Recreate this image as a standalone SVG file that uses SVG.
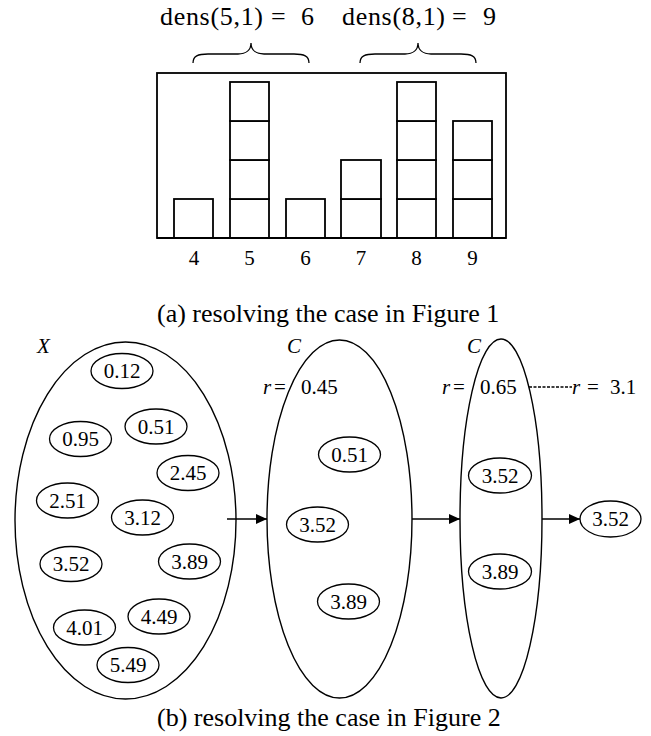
<svg xmlns="http://www.w3.org/2000/svg" width="651" height="736" viewBox="0 0 651 736">
  <style>
    text { font-family: "Liberation Serif", "Times New Roman", serif; fill: #000; }
    .math { font-size: 26px; }
    .tick { font-size: 21px; text-anchor: middle; }
    .cap { font-size: 26px; }
    .num { font-size: 21px; text-anchor: middle; }
    .it { font-size: 21px; font-style: italic; }
    .lbl { font-size: 21px; }
    .frame { fill: none; stroke: #000; stroke-width: 1.8; }
    .cell { fill: #fff; stroke: #000; stroke-width: 1.8; }
    .brace { fill: none; stroke: #000; stroke-width: 1.3; }
    .set { fill: none; stroke: #000; stroke-width: 1.4; }
    .elem { fill: #fff; stroke: #000; stroke-width: 1.3; }
    .edge { fill: none; stroke: #000; stroke-width: 1.4; }
    .dash { fill: none; stroke: #000; stroke-width: 1.3; stroke-dasharray: 3 1.5; }
  </style>
  <defs>
    <marker id="arrow" markerUnits="userSpaceOnUse" markerWidth="12" markerHeight="11" refX="11" refY="5" orient="auto">
      <path d="M0,0 L11,5 L0,10 Z" fill="#000"/>
    </marker>
  </defs>

  <!-- (a) density histogram -->
  <g id="density-labels">
    <text class="math" x="160" y="25" textLength="103" lengthAdjust="spacing">dens(5,1)</text>
    <text class="math" x="271" y="25">=</text>
    <text class="math" x="301" y="25">6</text>
    <text class="math" x="342" y="25" textLength="103" lengthAdjust="spacing">dens(8,1)</text>
    <text class="math" x="452" y="25">=</text>
    <text class="math" x="483" y="25">9</text>
  </g>
  <g id="braces">
    <path class="brace" d="M193,63 C193,56 198,54 208,54 L238,54 C246,54 251,50 251,43 C251,50 256,54 264,54 L294,54 C304,54 309,56 309,63"/>
    <path class="brace" d="M360,63 C360,56 365,54 375,54 L405,54 C413,54 418,50 418,43 C418,50 423,54 431,54 L461,54 C471,54 476,56 476,63"/>
  </g>
  <g id="histogram">
    <rect class="frame" x="157" y="73" width="349" height="165"/>
    <!-- bin 4: 1 -->
    <rect class="cell" x="174" y="199" width="39" height="39"/>
    <!-- bin 5: 4 -->
    <rect class="cell" x="230" y="199" width="39" height="39"/>
    <rect class="cell" x="230" y="160" width="39" height="39"/>
    <rect class="cell" x="230" y="121" width="39" height="39"/>
    <rect class="cell" x="230" y="82" width="39" height="39"/>
    <!-- bin 6: 1 -->
    <rect class="cell" x="286" y="199" width="39" height="39"/>
    <!-- bin 7: 2 -->
    <rect class="cell" x="341" y="199" width="40" height="39"/>
    <rect class="cell" x="341" y="160" width="40" height="39"/>
    <!-- bin 8: 4 -->
    <rect class="cell" x="397" y="199" width="39" height="39"/>
    <rect class="cell" x="397" y="160" width="39" height="39"/>
    <rect class="cell" x="397" y="121" width="39" height="39"/>
    <rect class="cell" x="397" y="82" width="39" height="39"/>
    <!-- bin 9: 3 -->
    <rect class="cell" x="453" y="199" width="39" height="39"/>
    <rect class="cell" x="453" y="160" width="39" height="39"/>
    <rect class="cell" x="453" y="121" width="39" height="39"/>
    <line class="frame" x1="157" y1="238" x2="506" y2="238"/>
  </g>
  <g id="bins">
    <text class="tick" x="194" y="265">4</text>
    <text class="tick" x="249.5" y="265">5</text>
    <text class="tick" x="305.5" y="265">6</text>
    <text class="tick" x="361" y="265">7</text>
    <text class="tick" x="416.5" y="265">8</text>
    <text class="tick" x="472.5" y="265">9</text>
  </g>
  <text class="cap" x="157" y="322">(a) resolving the case in Figure 1</text>

  <!-- (b) candidate sets -->
  <g id="connectors">
    <line class="edge" x1="227" y1="519" x2="267" y2="519" marker-end="url(#arrow)"/>
    <line class="edge" x1="412" y1="519" x2="460" y2="519" marker-end="url(#arrow)"/>
    <line class="edge" x1="542" y1="519" x2="580" y2="519" marker-end="url(#arrow)"/>
    <line class="dash" x1="529" y1="387" x2="572" y2="387"/>
  </g>

  <g id="set-X">
    <ellipse class="set" cx="125.5" cy="520.5" rx="110.5" ry="178.5"/>
    <text class="it" x="37" y="353">X</text>
    <ellipse class="elem" cx="122" cy="371" rx="31" ry="17.5"/>
    <text class="num" x="122" y="378">0.12</text>
    <ellipse class="elem" cx="80.5" cy="439" rx="31" ry="17.5"/>
    <text class="num" x="80.5" y="446">0.95</text>
    <ellipse class="elem" cx="156" cy="426.5" rx="31" ry="17.5"/>
    <text class="num" x="156" y="433.5">0.51</text>
    <ellipse class="elem" cx="188" cy="473" rx="31" ry="17.5"/>
    <text class="num" x="188" y="480">2.45</text>
    <ellipse class="elem" cx="67.5" cy="500.5" rx="31" ry="17.5"/>
    <text class="num" x="67.5" y="507.5">2.51</text>
    <ellipse class="elem" cx="142.5" cy="517.5" rx="31" ry="17.5"/>
    <text class="num" x="142.5" y="524.5">3.12</text>
    <ellipse class="elem" cx="71" cy="564" rx="31" ry="17.5"/>
    <text class="num" x="71" y="571">3.52</text>
    <ellipse class="elem" cx="189.5" cy="561.5" rx="31" ry="17.5"/>
    <text class="num" x="189.5" y="568.5">3.89</text>
    <ellipse class="elem" cx="84.5" cy="627.5" rx="31" ry="17.5"/>
    <text class="num" x="84.5" y="634.5">4.01</text>
    <ellipse class="elem" cx="159" cy="616.5" rx="31" ry="17.5"/>
    <text class="num" x="159" y="623.5">4.49</text>
    <ellipse class="elem" cx="128" cy="665" rx="31" ry="17.5"/>
    <text class="num" x="128" y="672">5.49</text>
  </g>

  <g id="set-C1">
    <ellipse class="set" cx="339.5" cy="519" rx="72.5" ry="179"/>
    <text class="it" x="287" y="353">C</text>
    <text class="it" x="263" y="394">r</text>
    <text class="lbl" x="274" y="394">=</text>
    <text class="lbl" x="301" y="394">0.45</text>
    <ellipse class="elem" cx="349.5" cy="454.5" rx="31" ry="17.5"/>
    <text class="num" x="349.5" y="461.5">0.51</text>
    <ellipse class="elem" cx="317.5" cy="524.5" rx="31" ry="17.5"/>
    <text class="num" x="317.5" y="531.5">3.52</text>
    <ellipse class="elem" cx="348.5" cy="601.5" rx="31" ry="17.5"/>
    <text class="num" x="348.5" y="608.5">3.89</text>
  </g>

  <g id="set-C2">
    <ellipse class="set" cx="501" cy="518.5" rx="41" ry="179.5"/>
    <text class="it" x="467" y="353">C</text>
    <text class="it" x="442" y="394">r</text>
    <text class="lbl" x="453" y="394">=</text>
    <text class="lbl" x="480" y="394">0.65</text>
    <ellipse class="elem" cx="500" cy="475.5" rx="31.5" ry="17.5"/>
    <text class="num" x="500" y="482.5">3.52</text>
    <ellipse class="elem" cx="500" cy="571.5" rx="31.5" ry="17.5"/>
    <text class="num" x="500" y="578.5">3.89</text>
  </g>

  <g id="threshold">
    <text class="it" x="572" y="394">r</text>
    <text class="lbl" x="587" y="394">=</text>
    <text class="lbl" x="610" y="394">3.1</text>
  </g>

  <g id="result">
    <ellipse class="elem" cx="610.5" cy="519" rx="30.5" ry="18"/>
    <text class="num" x="610.5" y="526">3.52</text>
  </g>

  <text class="cap" x="157" y="726">(b) resolving the case in Figure 2</text>
</svg>
